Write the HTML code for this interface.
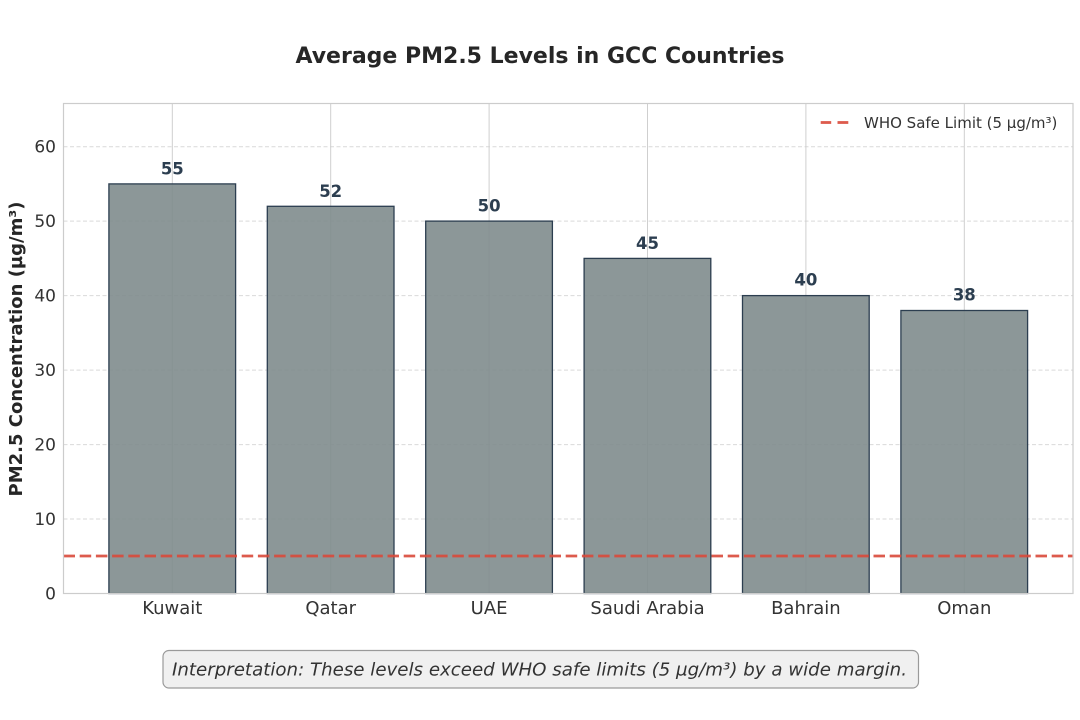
<!DOCTYPE html>
<html>
<head>
<meta charset="utf-8">
<style>
  html, body { margin: 0; padding: 0; background: #ffffff; }
  svg { display: block; }
  text { font-family: "DejaVu Sans", "Liberation Sans", sans-serif; }
</style>
</head>
<body>
<svg width="1080" height="720" viewBox="0 0 1080 720" xmlns="http://www.w3.org/2000/svg">
  <rect x="0" y="0" width="1080" height="720" fill="#ffffff"/>

  <!-- Title -->
  <text x="540" y="63" text-anchor="middle" font-size="22" font-weight="bold" fill="#262626">Average PM2.5 Levels in GCC Countries</text>

  <!-- Y grid (dashed) -->
  <g stroke="#d9d9d9" stroke-width="1" stroke-dasharray="4,2.5">
    <line x1="63.5" y1="519" x2="1073" y2="519"/>
    <line x1="63.5" y1="444.6" x2="1073" y2="444.6"/>
    <line x1="63.5" y1="370.1" x2="1073" y2="370.1"/>
    <line x1="63.5" y1="295.6" x2="1073" y2="295.6"/>
    <line x1="63.5" y1="221.1" x2="1073" y2="221.1"/>
    <line x1="63.5" y1="146.7" x2="1073" y2="146.7"/>
  </g>

  <!-- X grid (solid, at category centers) -->
  <g stroke="#cfcfcf" stroke-width="1">
    <line x1="172.3" y1="103.5" x2="172.3" y2="593.5"/>
    <line x1="330.7" y1="103.5" x2="330.7" y2="593.5"/>
    <line x1="489.1" y1="103.5" x2="489.1" y2="593.5"/>
    <line x1="647.5" y1="103.5" x2="647.5" y2="593.5"/>
    <line x1="805.9" y1="103.5" x2="805.9" y2="593.5"/>
    <line x1="964.3" y1="103.5" x2="964.3" y2="593.5"/>
  </g>

  <!-- Bars -->
  <g fill="#7f8c8d" fill-opacity="0.9" stroke="#2c3e50" stroke-width="1.3">
    <rect x="108.9" y="183.9" width="126.7" height="409.6"/>
    <rect x="267.3" y="206.3" width="126.7" height="387.2"/>
    <rect x="425.7" y="221.1" width="126.7" height="372.4"/>
    <rect x="584.1" y="258.4" width="126.7" height="335.1"/>
    <rect x="742.5" y="295.6" width="126.7" height="297.9"/>
    <rect x="900.9" y="310.5" width="126.7" height="283.0"/>
  </g>

  <!-- Bar value labels -->
  <g font-size="16.5" font-weight="bold" fill="#2c3e50" text-anchor="middle">
    <text x="172.3" y="174.5">55</text>
    <text x="330.7" y="197">52</text>
    <text x="489.1" y="211.5">50</text>
    <text x="647.5" y="249">45</text>
    <text x="805.9" y="285.5">40</text>
    <text x="964.3" y="300.5">38</text>
  </g>

  <!-- WHO line -->
  <line x1="63.5" y1="556" x2="1073" y2="556" stroke="#d9493a" stroke-opacity="0.9" stroke-width="2.8" stroke-dasharray="11.5,4.7"/>

  <!-- Axes frame -->
  <rect x="63.5" y="103.5" width="1009.5" height="490" fill="none" stroke="#cccccc" stroke-width="1.2"/>

  <!-- Y tick labels -->
  <g font-size="17" fill="#333333" text-anchor="end">
    <text x="56" y="599.5">0</text>
    <text x="56" y="525">10</text>
    <text x="56" y="450.6">20</text>
    <text x="56" y="376.1">30</text>
    <text x="56" y="301.6">40</text>
    <text x="56" y="227.1">50</text>
    <text x="56" y="152.7">60</text>
  </g>

  <!-- X tick labels -->
  <g font-size="18" fill="#333333" text-anchor="middle">
    <text x="172.3" y="614">Kuwait</text>
    <text x="330.7" y="614">Qatar</text>
    <text x="489.1" y="614">UAE</text>
    <text x="647.5" y="614">Saudi Arabia</text>
    <text x="805.9" y="614">Bahrain</text>
    <text x="964.3" y="614">Oman</text>
  </g>

  <!-- Y axis label -->
  <text transform="translate(22,349) rotate(-90)" text-anchor="middle" font-size="18" font-weight="bold" fill="#262626">PM2.5 Concentration (µg/m³)</text>

  <!-- Legend -->
  <line x1="820.7" y1="122.5" x2="831.2" y2="122.5" stroke="#d9493a" stroke-opacity="0.9" stroke-width="2.8"/>
  <line x1="837.5" y1="122.5" x2="848.3" y2="122.5" stroke="#d9493a" stroke-opacity="0.9" stroke-width="2.8"/>
  <text x="864" y="128" font-size="15" fill="#333333">WHO Safe Limit (5 µg/m³)</text>

  <!-- Interpretation box -->
  <rect x="163" y="650.5" width="755.5" height="37.5" rx="6" ry="6" fill="#f0f0f0" stroke="#9a9a9a" stroke-width="1.2"/>
  <text x="172" y="675.5" font-size="18" font-style="italic" fill="#333333" textLength="735" lengthAdjust="spacingAndGlyphs">Interpretation: These levels exceed WHO safe limits (5 µg/m³) by a wide margin.</text>
</svg>
</body>
</html>
